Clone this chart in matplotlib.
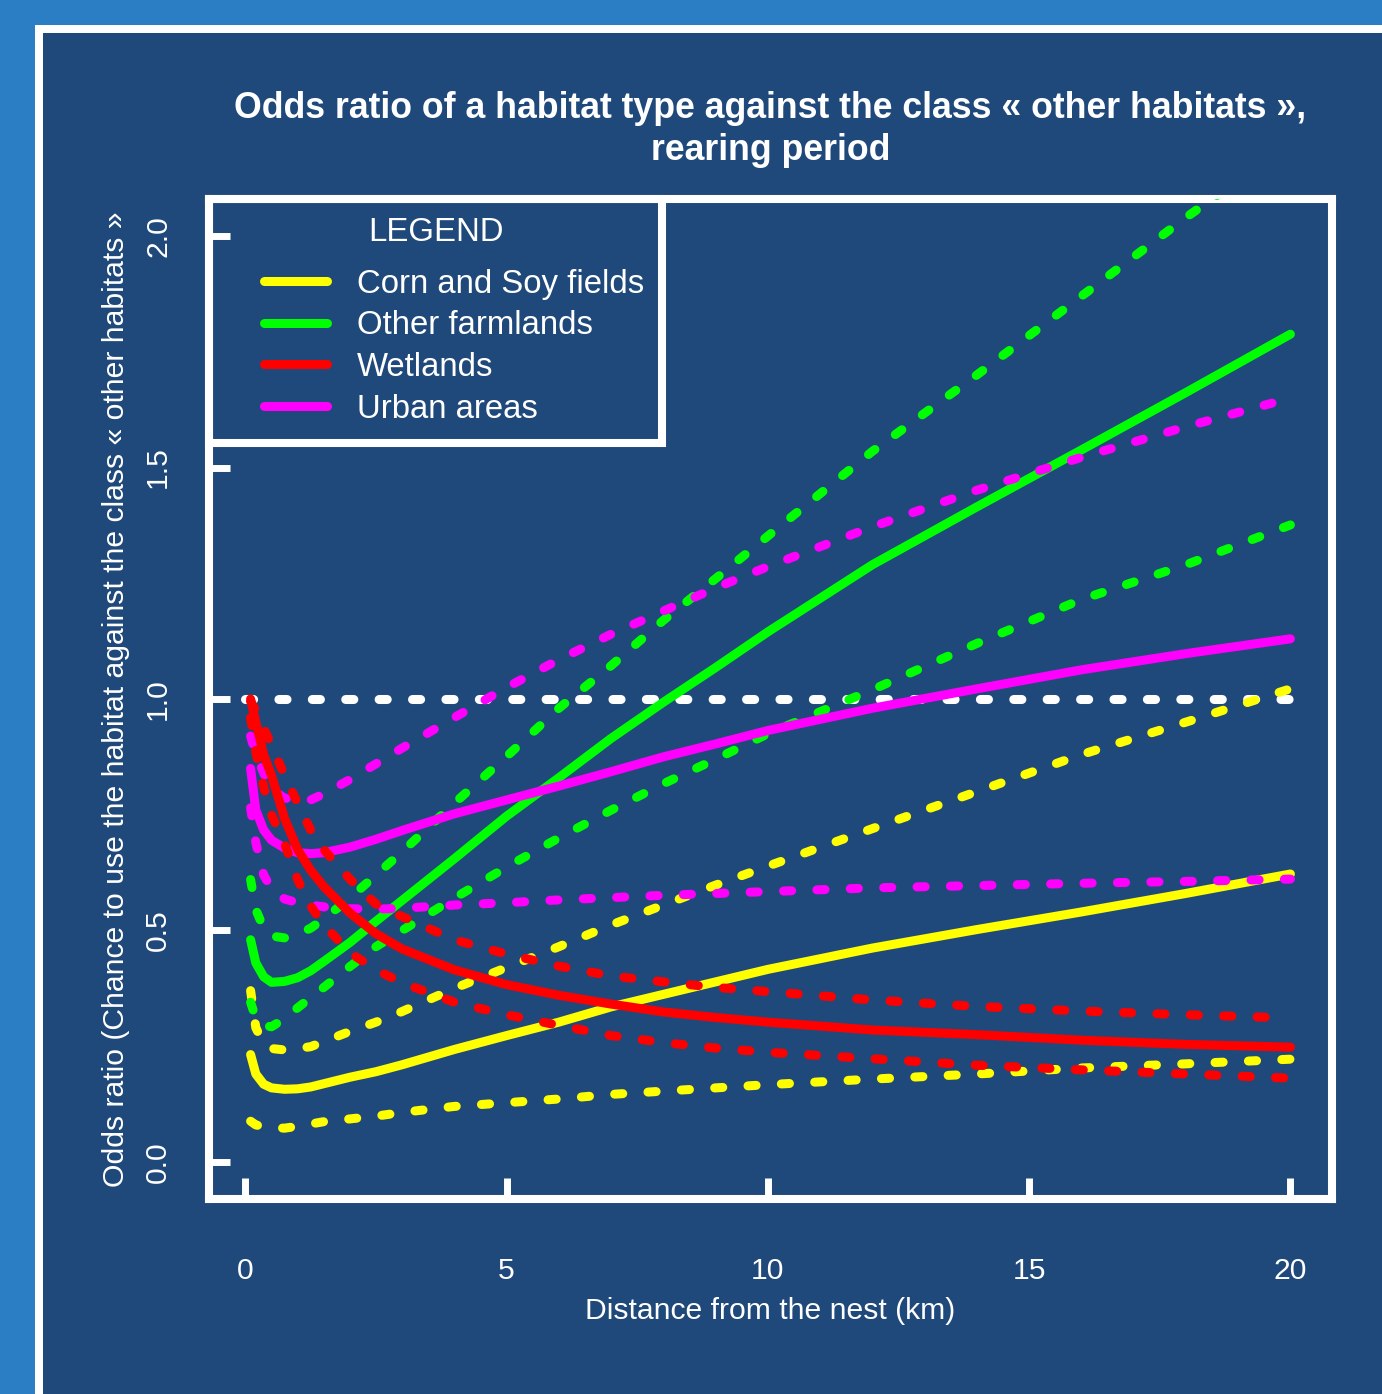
import matplotlib
matplotlib.use("Agg")
import matplotlib.pyplot as plt
from matplotlib.legend_handler import HandlerLine2D
from matplotlib.lines import Line2D
from matplotlib.patches import Rectangle

# distance from the nest (km) where the curves were read
distance_km = [0.1, 0.2, 0.35, 0.5, 0.75, 1.0, 1.25, 1.5, 2.0, 2.5, 3.0, 4.0, 5.0,
               6.0, 7.0, 8.0, 9.0, 10.0, 12.0, 14.0, 16.0, 18.0, 20.0]

# odds ratio: fitted curve and the two confidence bounds per habitat
corn_fit = [0.232, 0.19, 0.168, 0.16, 0.157, 0.158, 0.162, 0.169, 0.183, 0.195, 0.21, 0.243,
            0.273, 0.302, 0.335, 0.362, 0.389, 0.416, 0.462, 0.502, 0.54, 0.58, 0.622]
corn_high = [0.37, 0.29, 0.255, 0.245, 0.242, 0.245, 0.249, 0.26, 0.282, 0.302, 0.325, 0.375,
             0.42, 0.465, 0.512, 0.555, 0.598, 0.639, 0.72, 0.80, 0.88, 0.95, 1.022]
corn_low = [0.088, 0.08, 0.076, 0.074, 0.073, 0.077, 0.082, 0.087, 0.093, 0.099, 0.107, 0.12,
            0.128, 0.136, 0.146, 0.153, 0.16, 0.167, 0.179, 0.19, 0.203, 0.212, 0.222]

farm_fit = [0.48, 0.43, 0.40, 0.388, 0.39, 0.398, 0.413, 0.433, 0.474, 0.52, 0.565, 0.655,
            0.747, 0.83, 0.915, 0.993, 1.068, 1.145, 1.29, 1.415, 1.538, 1.662, 1.788]
farm_high = [0.61, 0.545, 0.505, 0.488, 0.484, 0.492, 0.505, 0.525, 0.57, 0.62, 0.67, 0.775,
             0.876, 0.98, 1.072, 1.17, 1.26, 1.352, 1.535, 1.70, 1.87, 2.04, 2.20]
farm_low = [0.345, 0.31, 0.295, 0.292, 0.31, 0.333, 0.355, 0.377, 0.422, 0.465, 0.50, 0.57,
            0.637, 0.70, 0.76, 0.817, 0.87, 0.925, 1.02, 1.12, 1.215, 1.29, 1.376]

wet_fit = [1.0, 0.95, 0.88, 0.835, 0.742, 0.675, 0.63, 0.595, 0.538, 0.493, 0.46, 0.415,
           0.383, 0.36, 0.341, 0.324, 0.312, 0.302, 0.285, 0.275, 0.263, 0.254, 0.248]
wet_high = [0.995, 0.975, 0.937, 0.90, 0.835, 0.775, 0.717, 0.675, 0.611, 0.557, 0.53, 0.48,
            0.449, 0.423, 0.402, 0.389, 0.377, 0.368, 0.35, 0.336, 0.326, 0.318, 0.311]
wet_low = [0.96, 0.885, 0.81, 0.75, 0.688, 0.61, 0.553, 0.512, 0.452, 0.415, 0.387, 0.345,
           0.318, 0.295, 0.273, 0.258, 0.246, 0.237, 0.223, 0.209, 0.199, 0.19, 0.181]

urban_fit = [0.85, 0.76, 0.717, 0.695, 0.678, 0.668, 0.666, 0.668, 0.68, 0.697, 0.716, 0.752,
             0.782, 0.812, 0.843, 0.875, 0.903, 0.932, 0.98, 1.022, 1.063, 1.098, 1.13]
urban_high = [0.92, 0.88, 0.84, 0.805, 0.786, 0.78, 0.782, 0.795, 0.826, 0.86, 0.894, 0.96,
              1.025, 1.085, 1.14, 1.19, 1.24, 1.286, 1.372, 1.451, 1.522, 1.588, 1.65]
urban_low = [0.765, 0.69, 0.62, 0.59, 0.568, 0.56, 0.555, 0.551, 0.547, 0.546, 0.548, 0.555,
             0.56, 0.566, 0.571, 0.576, 0.58, 0.584, 0.592, 0.597, 0.602, 0.606, 0.611]

habitats = ["Corn and Soy fields", "Other farmlands", "Wetlands", "Urban areas"]
colors = ["#FFFF00", "#00FF00", "#FF0000", "#FF00FF"]

# odds ratio of 1 = no difference with the "other habitats" class
ref_x = [0, 20]
ref_y = [1.0, 1.0]

x_ticks = [0, 5, 10, 15, 20]
y_ticks = [0.0, 0.5, 1.0, 1.5, 2.0]

PAGE_BLUE = "#2B7DC4"
DARK_BLUE = "#20497B"
LW = 6.5
DOTTED = (0, (0.9, 2.8))

plt.rcParams["font.family"] = ["Liberation Sans", "DejaVu Sans"]

W, H = 1382, 1394
fig = plt.figure(figsize=(W / 100, H / 100), dpi=100, facecolor=PAGE_BLUE)
fig.add_artist(Rectangle((35 / W, -0.1), 1.2, 1.1 - 25 / H, transform=fig.transFigure,
                         facecolor="white", edgecolor="none", zorder=-3))
fig.add_artist(Rectangle((43 / W, -0.1), 1.2, 1.1 - 33 / H, transform=fig.transFigure,
                         facecolor=DARK_BLUE, edgecolor="none", zorder=-2))

ax = fig.add_axes([209 / W, 1 - 1199 / H, 1123 / W, 1000 / H])
ax.set_facecolor(DARK_BLUE)

ax.plot(ref_x, ref_y, color="white", lw=LW, ls=DOTTED, dash_capstyle="round", zorder=2)

curves = [
    (corn_fit, corn_low, corn_high),
    (farm_fit, farm_low, farm_high),
    (wet_fit, wet_low, wet_high),
    (urban_fit, urban_low, urban_high),
]
# drawing order: corn, farmland, urban, wetland on top
draw_order = [0, 1, 3, 2]
handles = {}
for z, i in enumerate(draw_order):
    fit, low, high = curves[i]
    col = colors[i]
    for bound in (low, high):
        ax.plot(distance_km, bound, color=col, lw=LW, ls=DOTTED,
                dash_capstyle="round", zorder=3 + z)
    line, = ax.plot(distance_km, fit, color=col, lw=LW, solid_capstyle="round",
                    solid_joinstyle="round", zorder=3 + z)
    handles[i] = line

ax.set_xlim(0.1 - 0.796, 20 + 0.796)
ax.set_ylim(-0.08, 2.08)
ax.set_xticks(x_ticks)
ax.set_yticks(y_ticks)
ax.set_yticklabels([f"{v:.1f}" for v in y_ticks])
ax.tick_params(direction="in", length=15, width=5, color="white",
               labelcolor="white", labelsize=21.7)
ax.tick_params(axis="x", pad=41.8)
ax.tick_params(axis="y", pad=26.6, labelrotation=90)
plt.setp(ax.get_yticklabels(), va="center")

for side, spine in ax.spines.items():
    spine.set_color("white")
    spine.set_linewidth(5.8)
    spine.set_capstyle("projecting")

ax.set_xlabel("Distance from the nest (km)", color="white", fontsize=21.7)
ax.xaxis.set_label_coords(0.5, -0.098)
ax.set_ylabel("Odds ratio (Chance to use the habitat against the class « other habitats »",
              color="white", fontsize=21.7)
ax.yaxis.set_label_coords(-0.0703, 0.5)

ax.set_title("Odds ratio of a habitat type against the class « other habitats »,\nrearing period",
             color="white", fontsize=25.7, fontweight="bold", pad=28, linespacing=1.25)

leg = ax.legend([handles[i] for i in range(4)], habitats, loc="upper left",
                borderaxespad=0, title="LEGEND", fontsize=23.7, title_fontsize=23.7,
                labelcolor="white", facecolor=DARK_BLUE, edgecolor="white", framealpha=1,
                fancybox=False, handlelength=3.04, handletextpad=0.9, borderpad=0.55,
                labelspacing=0.32, handler_map={Line2D: HandlerLine2D(xpad=1.12)})
leg.get_title().set_color("white")
leg.get_frame().set_linewidth(5.8)
# the axis (zorder 1.5) must be drawn over the legend box so the 2.0 tick shows
leg.set_zorder(1.4)
leg._legend_box.sep = 15

fig.savefig("out.png", dpi=100, facecolor=fig.get_facecolor())
